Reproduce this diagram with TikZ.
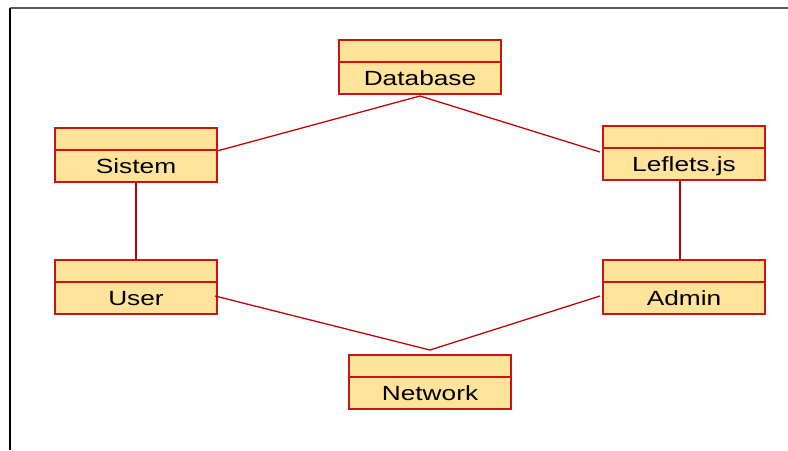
\documentclass[tikz,border=0pt]{standalone}
\usepackage{fontspec}
\setmainfont{Liberation Sans}
\usetikzlibrary{calc}
\definecolor{boxfill}{RGB}{254,227,154}
\definecolor{boxred}{RGB}{205,18,18}
\definecolor{linkred}{RGB}{192,0,0}
\begin{document}
\begin{tikzpicture}[x=0.025cm, y=-0.025cm,
  box/.style={draw=boxred, fill=boxfill, line width=1pt, minimum width=4.05cm, minimum height=1.35cm, inner sep=0pt, outer sep=0pt},
  divider/.style={draw=boxred, line width=1pt},
  txt/.style={font=\fontsize{14.6}{17}\selectfont, inner sep=0pt, anchor=base},
  link/.style={draw=linkred, line width=0.9pt}]
\useasboundingbox (0,0) rectangle (788,450);
\draw[gray!70!black, line width=1.3pt] (10,8) -- (788,8);
\draw[black, line width=1.2pt] (10,8) -- (10,450);

\node[box] (db) at (420,67) {};
\node[box] (sis) at (136,155) {};
\node[box] (lef) at (684,153) {};
\node[box] (usr) at (136,287) {};
\node[box] (adm) at (684,287) {};
\node[box] (net) at (430,382) {};

\draw[divider] ($(db.north west)+(0,22)$) -- ($(db.north east)+(0,22)$);
\draw[divider] ($(sis.north west)+(0,22)$) -- ($(sis.north east)+(0,22)$);
\draw[divider] ($(lef.north west)+(0,22)$) -- ($(lef.north east)+(0,22)$);
\draw[divider] ($(usr.north west)+(0,22)$) -- ($(usr.north east)+(0,22)$);
\draw[divider] ($(adm.north west)+(0,22)$) -- ($(adm.north east)+(0,22)$);
\draw[divider] ($(net.north west)+(0,22)$) -- ($(net.north east)+(0,22)$);

\node[txt] (dbtxt) at ($(db.south)+(0,-9)$) {\scalebox{1.28}[1]{Database}};
\node[txt] (sistxt) at ($(sis.south)+(0,-9)$) {\scalebox{1.28}[1]{Sistem}};
\node[txt] (leftxt) at ($(lef.south)+(0,-9)$) {\scalebox{1.28}[1]{Leflets.js}};
\node[txt] (usrtxt) at ($(usr.south)+(0,-9)$) {\scalebox{1.28}[1]{User}};
\node[txt] (admtxt) at ($(adm.south)+(0,-9)$) {\scalebox{1.28}[1]{Admin}};
\node[txt] (nettxt) at ($(net.south)+(0,-9)$) {\scalebox{1.28}[1]{Network}};

\draw[link] ($(db.south)+(0,2)$) -- ($(sis.east)+(0,-4)$);
\draw[link] ($(db.south)+(0,2)$) -- ($(lef.west)+(-3,-1)$);
\draw[link] (sis.south) -- (usr.north);
\draw[link] ($(lef.south)+(-4,0)$) -- ($(adm.north)+(-4,0)$);
\draw[link] ($(usr.east)+(-2,9)$) -- ($(net.north)+(0,-5)$);
\draw[link] ($(adm.west)+(-3,9)$) -- ($(net.north)+(0,-5)$);
\end{tikzpicture}
\end{document}
